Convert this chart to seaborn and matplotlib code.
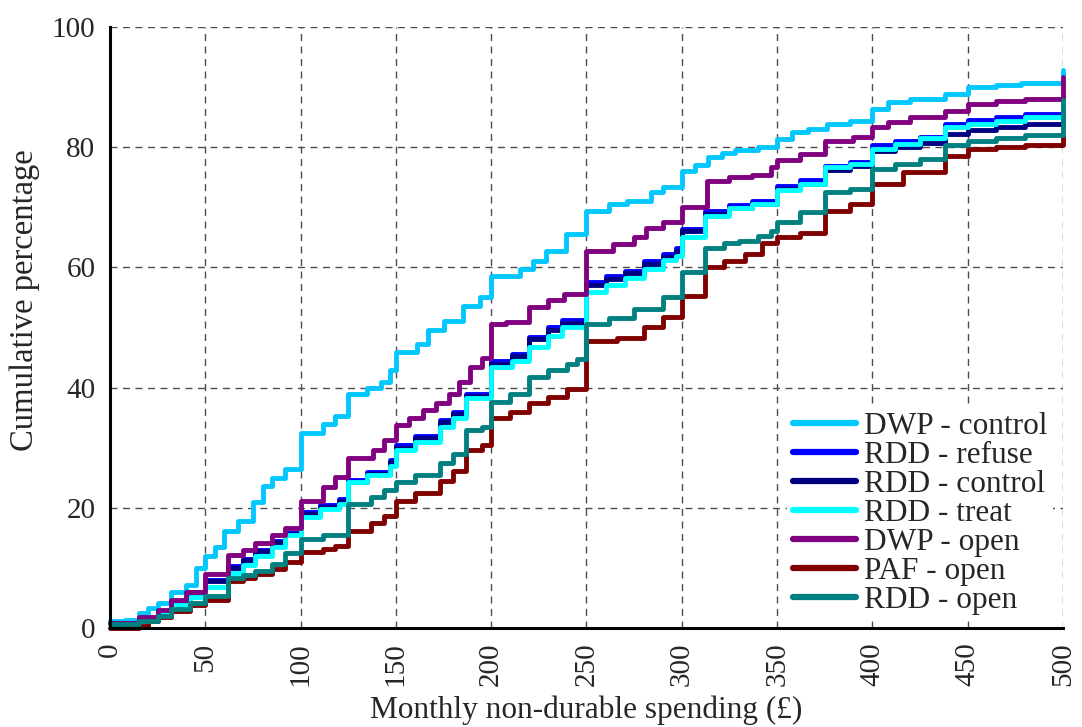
import pandas as pd
import numpy as np
import matplotlib
matplotlib.use('Agg')
import matplotlib.pyplot as plt
import seaborn as sns

# series names in legend order
names = ['DWP - control', 'RDD - refuse', 'RDD - control', 'RDD - treat',
         'DWP - open', 'PAF - open', 'RDD - open']
colors = ['#00C8FF', '#0000FF', '#000080', '#00FFFF', '#800080', '#800000', '#008080']

# cumulative % (value holds from x onwards)
dwp_ctrl_x = [0, 8, 15, 20, 25, 32, 40, 45, 50, 55, 60, 67, 75, 80, 85, 92, 100, 112, 118, 125,
              135, 142, 147, 150, 161, 167, 175, 185, 194, 200, 215, 222, 229, 239, 250, 262,
              271, 284, 290, 300, 307, 314, 321, 328, 340, 350, 358, 366, 376, 388, 400, 408,
              420, 438, 450, 465, 478, 490, 500]
dwp_ctrl_y = [1.2, 1.4, 2.5, 3.3, 4.2, 6.0, 7.2, 10.0, 12.0, 13.5, 16.1, 17.8, 21.0, 23.6, 25.0,
              26.4, 32.4, 34.0, 35.3, 39.0, 40.0, 41.0, 43.0, 46.0, 47.3, 49.6, 51.0, 53.5, 55.0,
              58.6, 59.7, 61.0, 62.8, 65.5, 69.4, 70.5, 71.1, 72.5, 73.4, 76.1, 77.0, 78.3, 79.0,
              79.6, 80.0, 81.4, 82.5, 83.0, 83.9, 84.4, 86.4, 87.5, 88.0, 88.9, 90.0, 90.3, 90.6,
              90.7, 92.8]

rdd_x = [0, 15, 25, 32, 42, 50, 62, 70, 76, 85, 92, 100, 110, 120, 125, 135, 147, 150, 160, 173,
         180, 187, 200, 211, 220, 230, 237, 250, 260, 270, 280, 290, 297, 300, 312, 325, 337, 350,
         362, 375, 388, 400, 412, 425, 438, 450, 465, 480, 500]
rdd_refuse_y = [0.9, 1.6, 2.8, 4.4, 6.0, 8.0, 10.3, 11.5, 13.0, 14.5, 15.8, 19.3, 20.5, 21.5, 24.6,
                26.0, 27.9, 30.4, 32.0, 34.6, 36.0, 39.0, 44.5, 45.6, 48.4, 50.0, 51.2, 57.5, 58.5,
                59.4, 61.0, 62.2, 63.3, 66.4, 69.4, 70.3, 71.1, 73.6, 74.5, 76.9, 77.5, 80.3, 81.0,
                81.7, 83.9, 84.6, 85.0, 85.5, 86.0]
rdd_control_y = [0.9, 1.6, 2.7, 4.3, 5.8, 7.8, 10.0, 11.3, 12.8, 14.3, 15.6, 19.0, 20.2, 21.2, 24.3,
                 25.7, 27.6, 30.0, 31.6, 34.2, 35.6, 38.6, 44.0, 45.2, 48.0, 49.6, 50.8, 57.0, 58.0,
                 59.0, 60.5, 61.8, 62.8, 66.0, 68.9, 69.8, 70.6, 73.0, 73.9, 76.2, 76.8, 79.4, 80.0,
                 80.7, 82.2, 82.8, 83.3, 83.8, 84.2]
rdd_treat_y = [0.6, 1.2, 2.3, 3.9, 5.2, 6.9, 9.2, 10.5, 11.9, 13.5, 15.4, 18.4, 19.8, 20.7, 24.3,
               25.5, 27.0, 29.6, 31.0, 33.5, 35.0, 38.2, 43.4, 44.5, 46.7, 48.5, 50.1, 55.9, 57.0,
               58.3, 59.8, 61.2, 61.9, 65.0, 68.6, 69.8, 70.6, 72.8, 73.8, 76.7, 77.2, 79.7, 80.5,
               81.5, 83.3, 83.9, 84.4, 85.0, 85.3]

dwp_open_x = [0, 15, 25, 32, 40, 50, 62, 70, 76, 85, 92, 100, 112, 118, 125, 138, 144, 150, 157,
              164, 171, 178, 183, 189, 195, 200, 208, 220, 230, 238, 250, 264, 275, 281, 290, 300,
              313, 325, 337, 347, 350, 362, 375, 390, 400, 408, 420, 438, 450, 465, 480, 500]
dwp_open_y = [0.9, 1.9, 3.0, 4.7, 6.0, 8.9, 12.2, 13.0, 14.2, 15.5, 16.7, 21.2, 23.4, 25.1, 28.2,
              29.6, 31.2, 33.7, 35.0, 36.2, 37.5, 39.0, 41.0, 43.4, 45.0, 50.6, 50.9, 53.4, 54.5,
              55.6, 62.8, 63.9, 65.0, 66.6, 67.5, 70.0, 74.4, 75.0, 75.3, 76.7, 77.8, 78.9, 81.1,
              81.7, 83.3, 84.2, 85.0, 86.1, 87.2, 87.6, 88.0, 91.7]

paf_open_x = [0, 15, 20, 25, 32, 42, 50, 62, 70, 76, 85, 92, 100, 112, 118, 125, 137, 144, 150,
              160, 173, 180, 187, 195, 200, 210, 220, 230, 240, 250, 266, 280, 290, 300, 312, 322,
              333, 342, 350, 362, 375, 388, 400, 416, 438, 450, 465, 480, 500]
paf_open_y = [0.0, 0.3, 1.1, 1.8, 2.8, 3.8, 4.7, 7.8, 8.3, 8.9, 9.8, 10.9, 12.6, 13.2, 13.7, 16.2,
              17.5, 18.7, 21.2, 22.5, 24.5, 26.2, 29.6, 30.4, 34.9, 36.0, 37.4, 38.5, 39.8, 47.8,
              48.3, 50.0, 51.7, 55.3, 60.0, 61.0, 62.2, 64.0, 65.0, 65.8, 69.4, 70.6, 73.9, 75.8,
              78.6, 79.7, 80.0, 80.3, 81.9]

rdd_open_x = [0, 15, 25, 32, 42, 50, 62, 70, 76, 85, 92, 100, 112, 125, 137, 144, 150, 160, 173,
              180, 187, 195, 200, 210, 220, 230, 240, 245, 250, 262, 275, 290, 300, 312, 322, 330,
              340, 347, 350, 362, 375, 388, 400, 412, 425, 438, 450, 465, 480, 500]
rdd_open_y = [0.6, 1.2, 2.0, 3.1, 4.2, 5.3, 8.3, 8.8, 9.4, 10.6, 12.5, 14.8, 15.5, 20.7, 21.8, 22.9,
              24.3, 25.5, 27.5, 29.0, 32.9, 33.4, 37.6, 39.0, 41.8, 43.0, 44.0, 44.8, 50.6, 51.5,
              53.1, 55.0, 59.2, 63.3, 64.0, 64.4, 65.3, 66.1, 67.5, 69.2, 72.5, 73.1, 76.4, 77.2,
              78.1, 80.3, 81.1, 81.6, 82.0, 87.8]

xs = [dwp_ctrl_x, rdd_x, rdd_x, rdd_x, dwp_open_x, paf_open_x, rdd_open_x]
ys = [dwp_ctrl_y, rdd_refuse_y, rdd_control_y, rdd_treat_y, dwp_open_y, paf_open_y, rdd_open_y]

df = pd.concat([pd.DataFrame({'spend': x, 'pct': y, 'group': n})
                for n, x, y in zip(names, xs, ys)], ignore_index=True)

sns.set_style('white')
plt.rcParams['font.family'] = ['Liberation Serif', 'DejaVu Serif']

fig = plt.figure(figsize=(10.82, 7.27), dpi=100)
ax = fig.add_axes([0.1017, 0.1362, 0.8807, 0.8267])

sns.lineplot(data=df, x='spend', y='pct', hue='group', hue_order=names,
             palette=dict(zip(names, colors)), estimator=None, sort=False,
             drawstyle='steps-post', linewidth=3.5, ax=ax, clip_on=False, zorder=3)

ax.set_xlim(0, 500)
ax.set_ylim(0, 100)
ax.set_xticks(np.arange(0, 501, 50))
ax.set_yticks(np.arange(0, 101, 20))
ax.grid(True, linestyle=(0, (5, 4)), color='0.3', linewidth=1)
for s in ['top', 'right']:
    ax.spines[s].set_visible(False)
for s in ['left', 'bottom']:
    ax.spines[s].set_linewidth(2.2)
    ax.spines[s].set_color('black')
    ax.spines[s].set_zorder(4)
ax.tick_params(axis='both', direction='out', length=7, width=2, labelsize=21, color='black')
ax.tick_params(axis='x', labelrotation=90)

ax.set_xlabel('Monthly non-durable spending (£)', fontsize=22.5)
ax.set_ylabel('Cumulative percentage', fontsize=23.5)
ax.xaxis.set_label_coords(0.5, -0.112)
ax.yaxis.set_label_coords(-0.074, 0.545)

leg = ax.legend(loc='lower right', bbox_to_anchor=(0.99, 0.012), frameon=True, fontsize=22.5,
                handlelength=2.0, labelspacing=0.0, handletextpad=0.25, borderaxespad=0.0,
                borderpad=0.2, fancybox=False, edgecolor='none', facecolor='white', framealpha=1)
leg.set_zorder(5)
for line in leg.get_lines():
    line.set_linewidth(4.5)
    line.set_solid_capstyle('round')

plt.savefig('out.png', dpi=100)
